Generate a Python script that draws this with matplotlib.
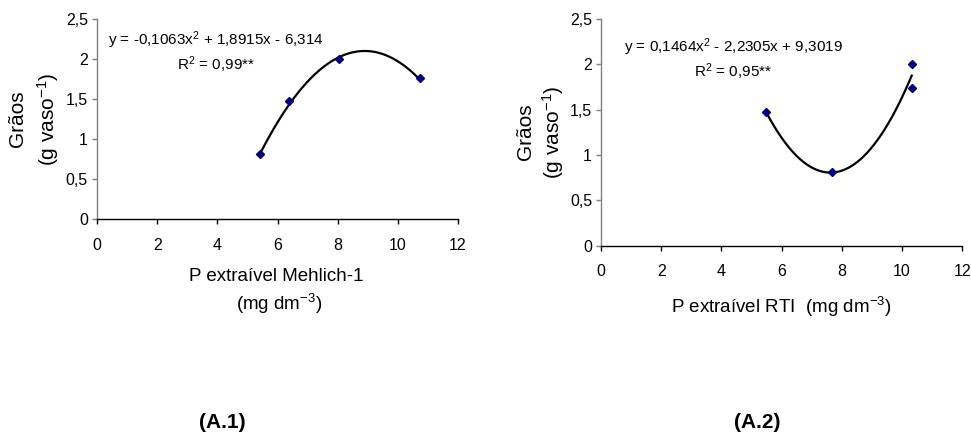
import numpy as np
import matplotlib
matplotlib.use("Agg")
import matplotlib.pyplot as plt
from matplotlib.ticker import FuncFormatter

plt.rcParams['font.family'] = ['Liberation Sans', 'DejaVu Sans']
plt.rcParams['mathtext.fontset'] = 'custom'
plt.rcParams['mathtext.rm'] = 'Liberation Sans'
plt.rcParams['mathtext.it'] = 'Liberation Sans'
plt.rcParams['mathtext.default'] = 'regular'

# Panel A.1 - Mehlich-1
x_mehlich = [5.42, 6.38, 8.05, 10.74]
y_mehlich = [0.81, 1.48, 2.00, 1.76]
coef_mehlich = [-0.1063, 1.8915, -6.314]

# Panel A.2 - RTI
x_rti = [5.49, 7.66, 10.32, 10.32]
y_rti = [1.47, 0.81, 2.00, 1.74]
coef_rti = [0.1464, -2.2305, 9.3019]

x_ticks = [0, 2, 4, 6, 8, 10, 12]
y_ticks = [0, 0.5, 1, 1.5, 2, 2.5]

fig = plt.figure(figsize=(9.71, 4.36), dpi=100)
ax1 = fig.add_axes([0.0999, 0.4977, 0.3718, 0.4587])
ax2 = fig.add_axes([0.619, 0.4365, 0.372, 0.52])

comma = FuncFormatter(lambda v, p: ('%g' % v).replace('.', ','))


def style(ax):
    ax.set_xlim(0, 12)
    ax.set_ylim(0, 2.5)
    ax.set_xticks(x_ticks)
    ax.set_yticks(y_ticks)
    ax.yaxis.set_major_formatter(comma)
    for s in ['top', 'right']:
        ax.spines[s].set_visible(False)
    ax.spines['left'].set_color('#808080')
    ax.spines['bottom'].set_color('black')
    ax.spines['left'].set_linewidth(1.0)
    ax.spines['bottom'].set_linewidth(1.0)
    ax.tick_params(axis='x', direction='out', length=3.5, width=1.0,
                   color='black', labelsize=11.5, pad=10)
    ax.tick_params(axis='y', direction='out', length=3.5, width=1.0,
                   color='#808080', labelsize=11.5, pad=3)


for ax, xs, ys, coef in [(ax1, x_mehlich, y_mehlich, coef_mehlich),
                         (ax2, x_rti, y_rti, coef_rti)]:
    style(ax)
    xx = np.linspace(min(xs), max(xs), 200)
    ax.plot(xx, np.polyval(coef, xx), color='black', lw=1.6, zorder=2)
    ax.plot(xs, ys, linestyle='none', marker='D', ms=4.2, color='#000080',
            zorder=3)

# equations
fig.text(0.2225, 0.908, 'y = -0,1063x$^2$ + 1,8915x - 6,314', ha='center',
         va='center', fontsize=11)
fig.text(0.2225, 0.851, 'R$^2$ = 0,99**', ha='center', va='center', fontsize=11)
fig.text(0.755, 0.892, 'y = 0,1464x$^2$ - 2,2305x + 9,3019', ha='center',
         va='center', fontsize=11)
fig.text(0.755, 0.835, 'R$^2$ = 0,95**', ha='center', va='center', fontsize=11)

# y labels
fig.text(0.0185, 0.727, 'Grãos', rotation=90, ha='center', va='center', fontsize=15)
fig.text(0.049, 0.727, '(g vaso$^{-1}$)', rotation=90, ha='center', va='center', fontsize=15)
fig.text(0.5407, 0.697, 'Grãos', rotation=90, ha='center', va='center', fontsize=15)
fig.text(0.5695, 0.697, '(g vaso$^{-1}$)', rotation=90, ha='center', va='center', fontsize=15)

# x labels
fig.text(0.285, 0.365, 'P extraível Mehlich-1', ha='center', va='center', fontsize=13.5)
fig.text(0.2875, 0.303, '(mg dm$^{-3}$)', ha='center', va='center', fontsize=13.5)
fig.text(0.805, 0.296, 'P extraível RTI  (mg dm$^{-3}$)', ha='center', va='center', fontsize=13.5)

# panel tags
fig.text(0.2286, 0.03, '(A.1)', ha='center', va='center', fontsize=15, fontweight='bold')
fig.text(0.78, 0.03, '(A.2)', ha='center', va='center', fontsize=15, fontweight='bold')

fig.savefig('out.png', dpi=100)
